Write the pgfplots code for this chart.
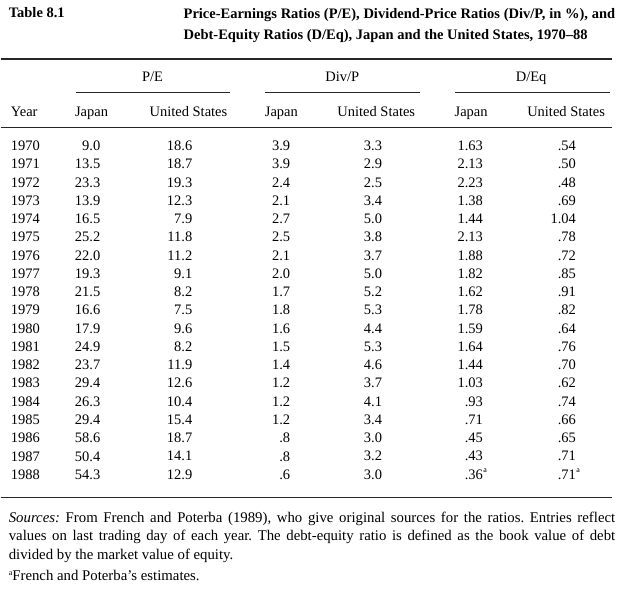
\documentclass[border=0pt]{standalone}
\usepackage{fontspec}
\setmainfont{Liberation Serif}
\usepackage{pgfplots}
\usepackage{pgfplotstable}
\pgfplotsset{compat=1.18}
\frenchspacing

% P/E, Div/P (in %), D/Eq -- Japan (j) and United States (u)
\pgfplotstableread{
year pej  peu  dpj dpu dej  deu
1970 9.0  18.6 3.9 3.3 1.63 .54
1971 13.5 18.7 3.9 2.9 2.13 .50
1972 23.3 19.3 2.4 2.5 2.23 .48
1973 13.9 12.3 2.1 3.4 1.38 .69
1974 16.5 7.9  2.7 5.0 1.44 1.04
1975 25.2 11.8 2.5 3.8 2.13 .78
1976 22.0 11.2 2.1 3.7 1.88 .72
1977 19.3 9.1  2.0 5.0 1.82 .85
1978 21.5 8.2  1.7 5.2 1.62 .91
1979 16.6 7.5  1.8 5.3 1.78 .82
1980 17.9 9.6  1.6 4.4 1.59 .64
1981 24.9 8.2  1.5 5.3 1.64 .76
1982 23.7 11.9 1.4 4.6 1.44 .70
1983 29.4 12.6 1.2 3.7 1.03 .62
1984 26.3 10.4 1.2 4.1 .93  .74
1985 29.4 15.4 1.2 3.4 .71  .66
1986 58.6 18.7 .8  3.0 .45  .65
1987 50.4 14.1 .8  3.2 .43  .71
1988 54.3 12.9 .6  3.0 .36  .71
}\ratios

\newcommand\tf{\fontsize{14.5}{18.3}\selectfont}
\newcommand\ry{146+18.28*(\thisrow{year}-1970)}
\pgfplotsset{
  col/.style={draw=none, no marks, nodes near coords, point meta=explicit symbolic,
    every node near coord/.style={anchor=east, inner sep=0pt, font=\tf}},
}

\begin{document}
\begin{tikzpicture}
\begin{axis}[
  width=630pt, height=594pt, scale only axis,
  xmin=0, xmax=630, ymin=0, ymax=594, y dir=reverse,
  hide axis, clip=false,
]
% fix the page to the full 630 x 594 frame
\path (axis cs:0,0) rectangle (axis cs:630,594);

\addplot[col, every node near coord/.style={anchor=west, inner sep=0pt, font=\tf}]
  table[x expr=10, y expr=\ry, meta=year]{\ratios};
\addplot[col] table[x expr=100, y expr=\ry, meta=pej]{\ratios};
\addplot[col] table[x expr=192, y expr=\ry, meta=peu]{\ratios};
\addplot[col] table[x expr=290, y expr=\ry, meta=dpj]{\ratios};
\addplot[col] table[x expr=382, y expr=\ry, meta=dpu]{\ratios};
\addplot[col] table[x expr=483, y expr=\ry, meta=dej]{\ratios};
\addplot[col] table[x expr=576, y expr=\ry, meta=deu]{\ratios};
% footnote marks on the 1988 D/Eq figures
\addplot[col, every node near coord/.style={anchor=west, inner sep=0pt, font=\fontsize{8}{8}\selectfont}]
  coordinates {(483,471) [a] (576,471) [a]};

% title
\node[anchor=base west, inner sep=0pt, font=\tf\bfseries] at (axis cs:8,18) {Table 8.1};
\node[anchor=north west, inner sep=0pt, text width=432pt, align=justify,
  font=\fontsize{14.5}{21}\selectfont\bfseries] at (axis cs:183,8)
  {\parfillskip=0pt Price-Earnings Ratios (P/E), Dividend-Price Ratios (Div/P, in \%), and\linebreak
   Debt-Equity Ratios (D/Eq), Japan and the United States, 1970--88};

% rules
\draw[line width=1.3pt, black!85] (axis cs:0,59) -- (axis cs:612,59);
\draw[line width=1pt, black!85] (axis cs:75,93) -- (axis cs:230,93);
\draw[line width=1pt, black!85] (axis cs:265,93) -- (axis cs:420,93);
\draw[line width=1pt, black!85] (axis cs:455,93) -- (axis cs:610,93);
\draw[line width=1.1pt, black!85] (axis cs:0,128) -- (axis cs:612,128);
\draw[line width=1.3pt, black!85] (axis cs:0,498) -- (axis cs:612,498);

% column heads
\begin{scope}[every node/.style={anchor=base, inner sep=0pt, font=\tf}]
\node at (axis cs:152,82) {P/E};
\node at (axis cs:342,82) {Div/P};
\node at (axis cs:531,82) {D/Eq};
\node[anchor=base west] at (axis cs:10,117) {Year};
\node at (axis cs:91,117) {Japan};
\node at (axis cs:188,117) {United States};
\node at (axis cs:281,117) {Japan};
\node at (axis cs:376,117) {United States};
\node at (axis cs:471,117) {Japan};
\node at (axis cs:566,117) {United States};
\end{scope}

% notes
\node[anchor=north west, inner sep=0pt, text width=607pt, align=justify,
  font=\fontsize{14.8}{18.8}\selectfont] at (axis cs:8,512)
  {\textit{Sources:} From French and Poterba (1989), who give original sources for the ratios. Entries reflect\linebreak
   values on last trading day of each year. The debt-equity ratio is defined as the book value of debt\linebreak
   divided by the market value of equity.};
\node[anchor=base west, inner sep=0pt, font=\fontsize{14.8}{18}\selectfont] at (axis cs:8,581)
  {\raisebox{0.7ex}{\fontsize{8}{8}\selectfont a}French and Poterba's estimates.};
\end{axis}
\end{tikzpicture}
\end{document}
